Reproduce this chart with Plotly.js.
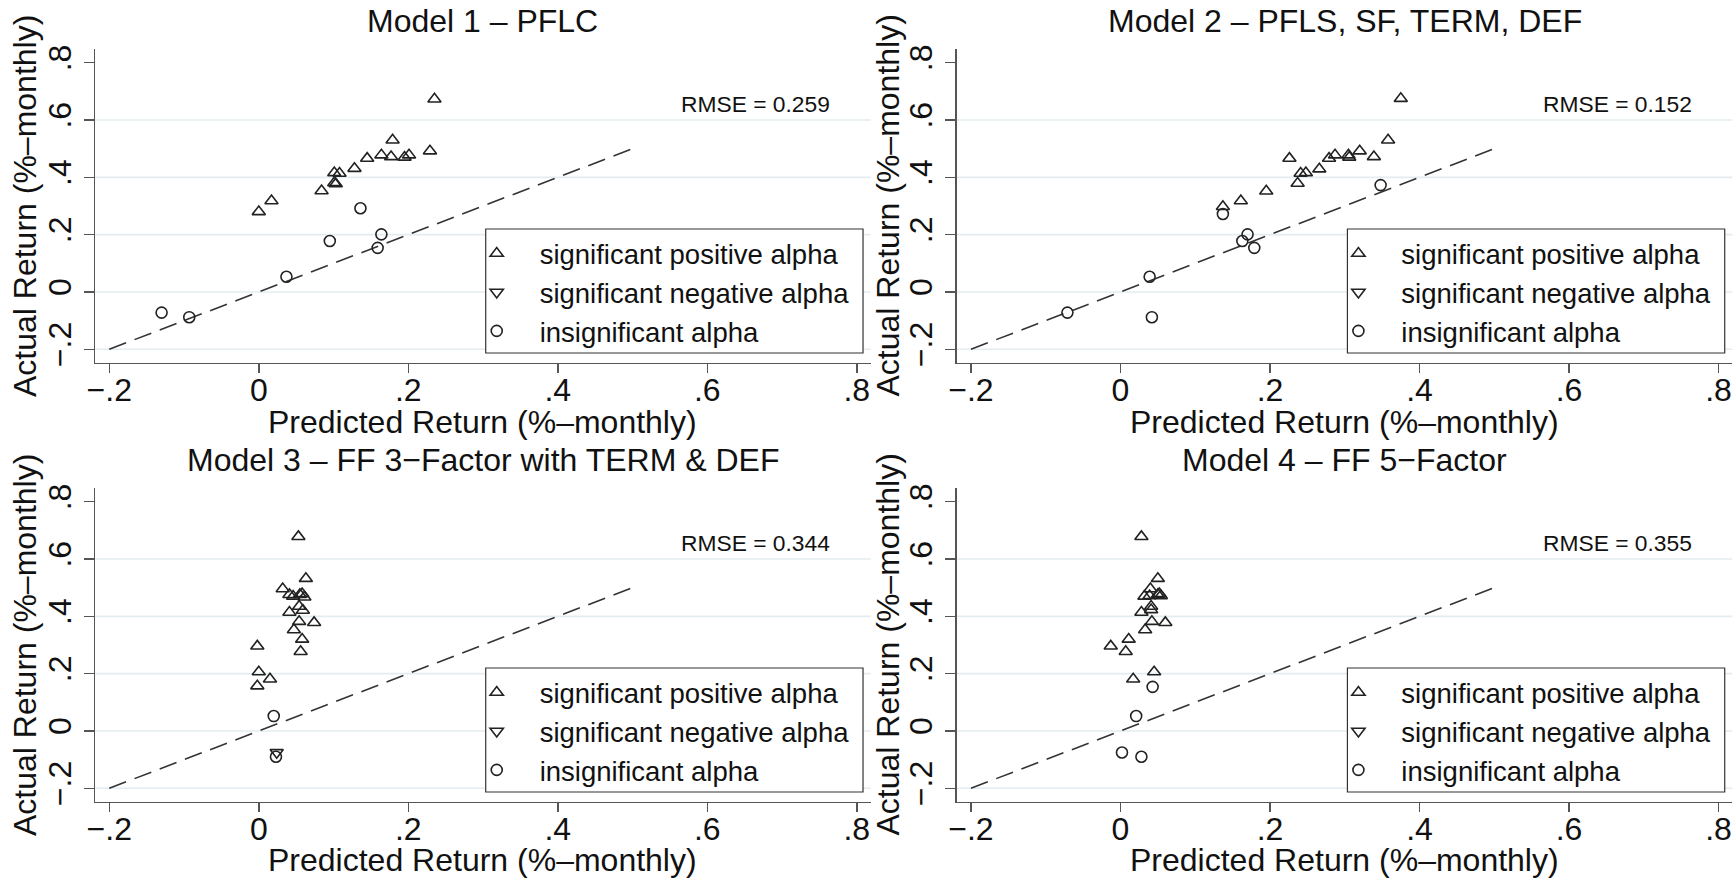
<!DOCTYPE html>
<html>
<head>
<meta charset="utf-8">
<script src="https://cdn.plot.ly/plotly-3.0.1.min.js"></script>
<style>html,body{margin:0;padding:0;background:#fff;}#chart{width:1734px;height:878px;}</style>
</head>
<body>
<div id="chart"></div>
<script>
// ---------------- data ----------------
const panelTitles = ['Model 1 \u2013 PFLC', 'Model 2 \u2013 PFLS, SF, TERM, DEF',
                     'Model 3 \u2013 FF 3\u2212Factor with TERM & DEF', 'Model 4 \u2013 FF 5\u2212Factor'];
const rmseLabels = ['RMSE = 0.259', 'RMSE = 0.152', 'RMSE = 0.344', 'RMSE = 0.355'];
const legendNames = ['significant positive alpha', 'significant negative alpha', 'insignificant alpha'];
const xAxisTitle = 'Predicted Return (%\u2013monthly)';
const yAxisTitle = 'Actual Return (%\u2013monthly)';
const tickVals = [-0.2, 0, 0.2, 0.4, 0.6, 0.8];
const tickText = ['\u2212.2', '0', '.2', '.4', '.6', '.8'];
const gridVals = [-0.2, 0, 0.2, 0.4, 0.6];
const refLineX = [-0.2, 0.5];
const refLineY = [-0.2, 0.5];

// Model 1
const m1PosX = [0.235, 0.179, 0.229, 0.164, 0.177, 0.201, 0.195, 0.145, 0.128, 0.101, 0.108, 0.101, 0.103, 0.084, 0.017, 0.000];
const m1PosY = [0.673, 0.530, 0.492, 0.478, 0.472, 0.478, 0.470, 0.466, 0.431, 0.416, 0.414, 0.381, 0.377, 0.353, 0.318, 0.280];
const m1NegX = [];
const m1NegY = [];
const m1InsX = [-0.130, -0.093, 0.037, 0.095, 0.136, 0.164, 0.159];
const m1InsY = [-0.072, -0.088, 0.053, 0.178, 0.292, 0.201, 0.154];

// Model 2
const m2PosX = [0.375, 0.358, 0.339, 0.320, 0.305, 0.306, 0.287, 0.279, 0.226, 0.266, 0.248, 0.241, 0.237, 0.195, 0.161, 0.137];
const m2PosY = [0.675, 0.530, 0.472, 0.492, 0.478, 0.470, 0.478, 0.466, 0.466, 0.429, 0.416, 0.414, 0.379, 0.352, 0.318, 0.298];
const m2NegX = [];
const m2NegY = [];
const m2InsX = [-0.071, 0.039, 0.042, 0.137, 0.163, 0.170, 0.179, 0.348];
const m2InsY = [-0.072, 0.053, -0.088, 0.272, 0.178, 0.201, 0.154, 0.373];

// Model 3
const m3PosX = [0.053, 0.063, 0.032, 0.041, 0.046, 0.055, 0.061, 0.058, 0.041, 0.059, 0.054, 0.054, 0.074, 0.047, 0.058, 0.056, -0.002, 0.000, 0.015, -0.002];
const m3PosY = [0.678, 0.532, 0.496, 0.476, 0.470, 0.476, 0.467, 0.479, 0.414, 0.421, 0.435, 0.382, 0.378, 0.353, 0.320, 0.277, 0.296, 0.206, 0.181, 0.157];
const m3NegX = [0.024];
const m3NegY = [-0.075];
const m3InsX = [0.020, 0.023];
const m3InsY = [0.052, -0.090];

// Model 4
const m4PosX = [0.028, 0.050, 0.040, 0.032, 0.039, 0.050, 0.054, 0.052, 0.028, 0.041, 0.041, 0.042, 0.060, 0.033, 0.011, -0.013, 0.007, 0.045, 0.017];
const m4PosY = [0.678, 0.532, 0.496, 0.470, 0.472, 0.476, 0.472, 0.479, 0.414, 0.423, 0.435, 0.382, 0.378, 0.353, 0.320, 0.296, 0.277, 0.206, 0.181];
const m4NegX = [];
const m4NegY = [];
const m4InsX = [0.043, 0.021, 0.002, 0.028];
const m4InsY = [0.154, 0.052, -0.075, -0.090];

// ---------------- build ----------------
const W = 1734, H = 878;
const FONT = 'Liberation Sans, Arial, Helvetica, sans-serif';
const BIG = 32;
const series = [
  [[m1PosX, m1PosY], [m1NegX, m1NegY], [m1InsX, m1InsY]],
  [[m2PosX, m2PosY], [m2NegX, m2NegY], [m2InsX, m2InsY]],
  [[m3PosX, m3PosY], [m3NegX, m3NegY], [m3InsX, m3InsY]],
  [[m4PosX, m4PosY], [m4NegX, m4NegY], [m4InsX, m4InsY]]
];
const symbols = ['triangle-up-open', 'triangle-down-open', 'circle-open'];
const symSizes = [11.5, 11.5, 11];

// panel pixel boxes (left, right, top, bottom)
const boxes = [
  [95, 870.7, 49.3, 362.7],
  [956.7, 1732.4, 49.3, 362.7],
  [95, 870.7, 488.3, 801.7],
  [956.7, 1732.4, 488.3, 801.7]
];
const xTitleY = [421.5, 421.5, 860, 860];
const yTitleX = [25, 887.5, 25, 887.5];

const xRange = [-0.2191, 0.8186];
const yRange = [-0.2468, 0.8468];

const traces = [];
const layout = {
  width: W, height: H,
  margin: {l: 0, r: 0, t: 0, b: 0},
  paper_bgcolor: '#fff', plot_bgcolor: '#fff',
  font: {family: FONT, color: '#111', size: BIG},
  showlegend: true,
  shapes: [], annotations: []
};

boxes.forEach((b, i) => {
  const n = i + 1;
  const xa = n === 1 ? 'xaxis' : 'xaxis' + n;
  const ya = n === 1 ? 'yaxis' : 'yaxis' + n;
  const xr = n === 1 ? 'x' : 'x' + n;
  const yr = n === 1 ? 'y' : 'y' + n;
  const lg = n === 1 ? 'legend' : 'legend' + n;

  layout[xa] = {
    domain: [b[0] / W, b[1] / W], anchor: yr, range: xRange,
    tickmode: 'array', tickvals: tickVals, ticktext: tickText,
    showgrid: false, zeroline: false, showline: true, linecolor: '#555', linewidth: 1.5,
    ticks: 'outside', ticklen: 9, tickwidth: 1.5, tickcolor: '#555',
    ticklabelstandoff: -11,
    tickfont: {size: BIG, family: FONT, color: '#111'},
    fixedrange: true
  };
  layout[ya] = {
    domain: [1 - b[3] / H, 1 - b[2] / H], anchor: xr, range: yRange,
    tickmode: 'array', tickvals: tickVals, ticktext: tickText, tickangle: -90,
    showgrid: false, zeroline: false, showline: true, linecolor: '#555', linewidth: 1.5,
    ticks: 'outside', ticklen: 10, tickwidth: 1.5, tickcolor: '#555',
    tickfont: {size: BIG, family: FONT, color: '#111'},
    fixedrange: true
  };

  // gridlines
  gridVals.forEach(v => {
    layout.shapes.push({type: 'line', layer: 'below', xref: xr + ' domain', yref: yr,
      x0: 0, x1: 1, y0: v, y1: v, line: {color: '#e3ecef', width: 1.6}});
  });
  // legend box
  layout.shapes.push({type: 'rect', layer: 'below', xref: xr + ' domain', yref: yr + ' domain',
    x0: 0.5037, x1: 0.9901, y0: 0.031, y1: 0.4266,
    line: {color: '#333', width: 1.2}, fillcolor: '#fff'});

  // legend
  const pw = b[1] - b[0], ph = b[3] - b[2];
  const legLeftPx = b[0] + 0.5037 * pw - 9;
  const legTopPx = b[3] - 0.4266 * ph;
  layout[lg] = {
    x: legLeftPx / W, y: 1 - legTopPx / H, xref: 'paper', yref: 'paper',
    xanchor: 'left', yanchor: 'top',
    bgcolor: 'rgba(0,0,0,0)', borderwidth: 0,
    font: {size: 27.5, family: FONT, color: '#111'},
    itemsizing: 'trace', traceorder: 'normal'
  };

  // 45-degree reference line
  traces.push({type: 'scatter', mode: 'lines', x: refLineX, y: refLineY, xaxis: xr, yaxis: yr,
    line: {color: '#333', width: 1.6, dash: '18px,9px'}, showlegend: false, hoverinfo: 'skip'});

  // markers (empty groups get a single blank point so their legend entry is still drawn)
  series[i].forEach((s, k) => {
    const xs = s[0].length ? s[0] : [null];
    const ys = s[1].length ? s[1] : [null];
    traces.push({type: 'scatter', mode: 'markers', x: xs, y: ys, xaxis: xr, yaxis: yr,
      name: '\u00a0\u00a0\u00a0' + legendNames[k], legend: lg, showlegend: true,
      marker: {symbol: symbols[k], size: symSizes[k], color: '#222', line: {width: 1.6, color: '#222'}}});
  });

  // panel title
  layout.annotations.push({xref: xr + ' domain', yref: 'paper', x: 0.5, y: 1 - (b[2] - 28.5) / H,
    xanchor: 'center', yanchor: 'middle', showarrow: false, text: panelTitles[i],
    font: {size: BIG, family: FONT, color: '#111'}});
  // axis titles
  layout.annotations.push({xref: xr + ' domain', yref: 'paper', x: 0.5, y: 1 - xTitleY[i] / H,
    xanchor: 'center', yanchor: 'middle', showarrow: false, text: xAxisTitle,
    font: {size: BIG, family: FONT, color: '#111'}});
  layout.annotations.push({xref: 'paper', yref: yr + ' domain', x: yTitleX[i] / W, y: 0.5,
    xanchor: 'center', yanchor: 'middle', showarrow: false, text: yAxisTitle, textangle: -90,
    font: {size: BIG, family: FONT, color: '#111'}});
  // RMSE
  layout.annotations.push({xref: xr, yref: yr, x: 0.665, y: 0.657, xanchor: 'center', yanchor: 'middle',
    showarrow: false, text: rmseLabels[i], font: {size: 22.8, family: FONT, color: '#111'}});
});

Plotly.newPlot('chart', traces, layout, {displayModeBar: false, staticPlot: true});
</script>
</body>
</html>
